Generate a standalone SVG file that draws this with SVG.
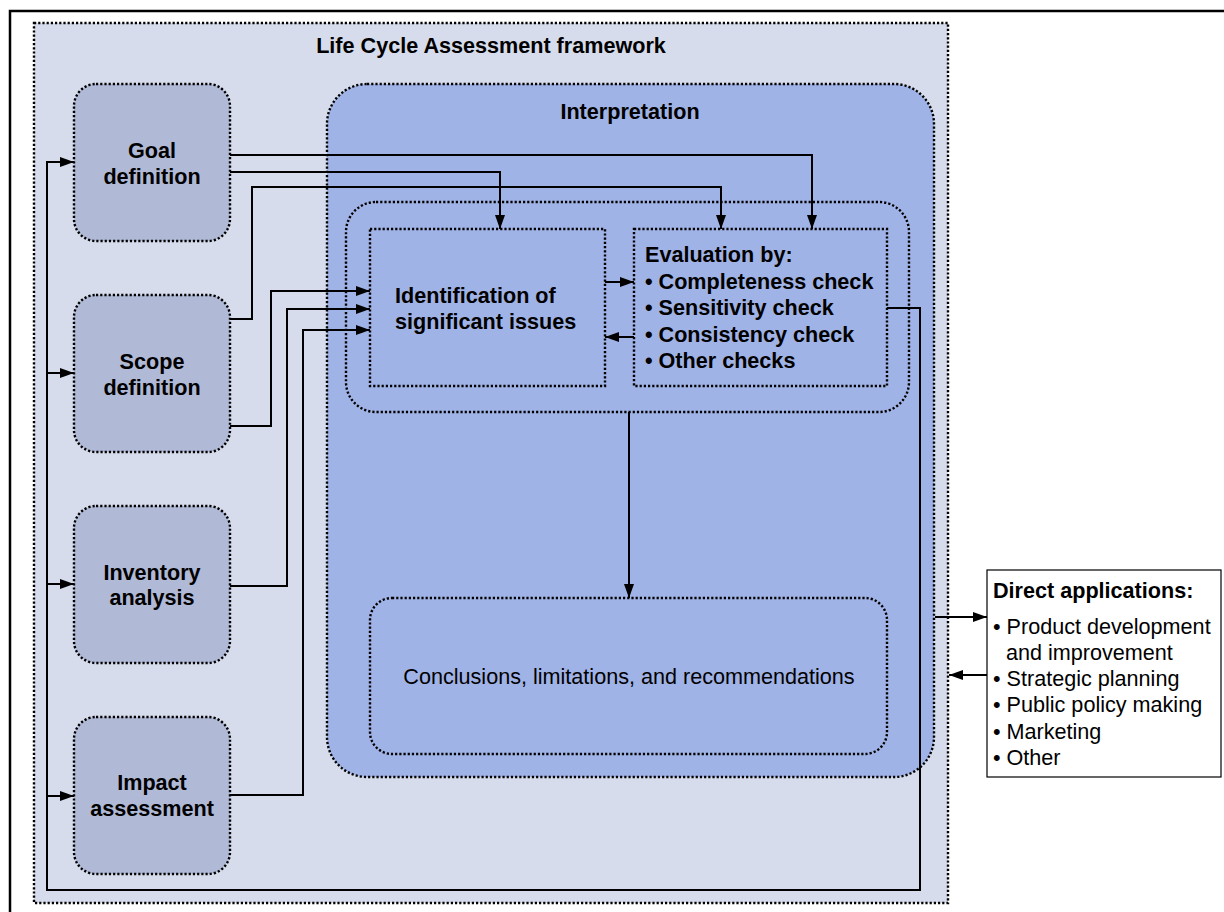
<svg xmlns="http://www.w3.org/2000/svg" width="1224" height="912" viewBox="0 0 1224 912">
<defs>
<marker id="ah" markerUnits="userSpaceOnUse" markerWidth="15" markerHeight="11" refX="14" refY="5" orient="auto">
<path d="M0,0 L14,5 L0,10 z" fill="#000"/>
</marker>
</defs>
<style>
.dot{stroke:#000;stroke-width:2.4;stroke-dasharray:2.2 2}
.node{fill:#b0b9d6}
.b{font-family:"Liberation Sans",Arial,sans-serif;font-weight:bold;font-size:21.6px;fill:#000}
.r{font-family:"Liberation Sans",Arial,sans-serif;font-size:21.6px;fill:#000}
.ca{stroke:#000;stroke-width:2;fill:none;marker-end:url(#ah)}
</style>
<rect width="1224" height="912" fill="#fff"/>
<path d="M10,912 V11 H1224" fill="none" stroke="#000" stroke-width="2.5"/>
<g id="framework">
<rect x="34" y="23" width="914" height="880" fill="#d6dceb" class="dot"/>
<text x="491" y="53" class="b" text-anchor="middle">Life Cycle Assessment framework</text>
</g>
<g id="interpretation">
<rect x="327" y="84" width="607" height="693" rx="40" fill="#a0b3e6" class="dot"/>
<text x="630" y="119" class="b" text-anchor="middle">Interpretation</text>
</g>
<g id="inner">
<rect x="346" y="202" width="563" height="210" rx="30" fill="#a0b3e6" class="dot"/>
</g>
<g id="goal">
<rect x="74" y="84" width="156" height="157" rx="22" class="node dot"/>
<text x="152" y="158" class="b" text-anchor="middle">Goal</text>
<text x="152" y="184" class="b" text-anchor="middle">definition</text>
</g>
<g id="scope">
<rect x="74" y="295" width="156" height="157" rx="22" class="node dot"/>
<text x="152" y="369" class="b" text-anchor="middle">Scope</text>
<text x="152" y="395" class="b" text-anchor="middle">definition</text>
</g>
<g id="inventory">
<rect x="74" y="506" width="156" height="157" rx="22" class="node dot"/>
<text x="152" y="580" class="b" text-anchor="middle">Inventory</text>
<text x="152" y="605" class="b" text-anchor="middle">analysis</text>
</g>
<g id="impact">
<rect x="74" y="717" width="156" height="157" rx="22" class="node dot"/>
<text x="152" y="790" class="b" text-anchor="middle">Impact</text>
<text x="152" y="816" class="b" text-anchor="middle">assessment</text>
</g>
<g id="identification">
<rect x="370" y="229" width="235" height="157" fill="#a0b3e6" class="dot"/>
<text x="395" y="303" class="b">Identification of</text>
<text x="395" y="329" class="b">significant issues</text>
</g>
<g id="evaluation">
<rect x="634" y="229" width="253" height="157" fill="#a0b3e6" class="dot"/>
<text x="645" y="262" class="b">Evaluation by:</text>
<text x="645" y="289" class="b">• Completeness check</text>
<text x="645" y="315" class="b">• Sensitivity check</text>
<text x="645" y="342" class="b">• Consistency check</text>
<text x="645" y="368" class="b">• Other checks</text>
</g>
<g id="conclusions">
<rect x="370" y="598" width="517" height="156" rx="22" fill="#a0b3e6" class="dot"/>
<text x="629" y="684" class="r" text-anchor="middle">Conclusions, limitations, and recommendations</text>
</g>
<g id="applications">
<rect x="987" y="570" width="234" height="207" fill="#fff" stroke="#000" stroke-width="1.2"/>
<text x="993" y="598" class="b">Direct applications:</text>
<text x="993" y="634" class="r">• Product development</text>
<text x="1006" y="660" class="r">and improvement</text>
<text x="993" y="686" class="r">• Strategic planning</text>
<text x="993" y="712" class="r">• Public policy making</text>
<text x="993" y="739" class="r">• Marketing</text>
<text x="993" y="765" class="r">• Other</text>
</g>
<g id="connectors">
<path class="ca" d="M230,155 H812 V229"/>
<path class="ca" d="M230,172 H500 V229"/>
<path class="ca" d="M230,319 H252 V187 H721 V229"/>
<path class="ca" d="M230,426 H271 V291 H370"/>
<path class="ca" d="M230,586 H287 V309 H370"/>
<path class="ca" d="M230,795 H303 V330 H370"/>
<path class="ca" d="M605,282 H634"/>
<path class="ca" d="M634,337 H605"/>
<path class="ca" d="M629,412 V598"/>
<path class="ca" d="M887,308 H920 V890 H47 V162 H74"/>
<path class="ca" d="M47,373 H74"/>
<path class="ca" d="M47,584 H74"/>
<path class="ca" d="M47,796 H74"/>
<path class="ca" d="M935,617 H987"/>
<path class="ca" d="M987,675 H949"/>
</g>
</svg>
